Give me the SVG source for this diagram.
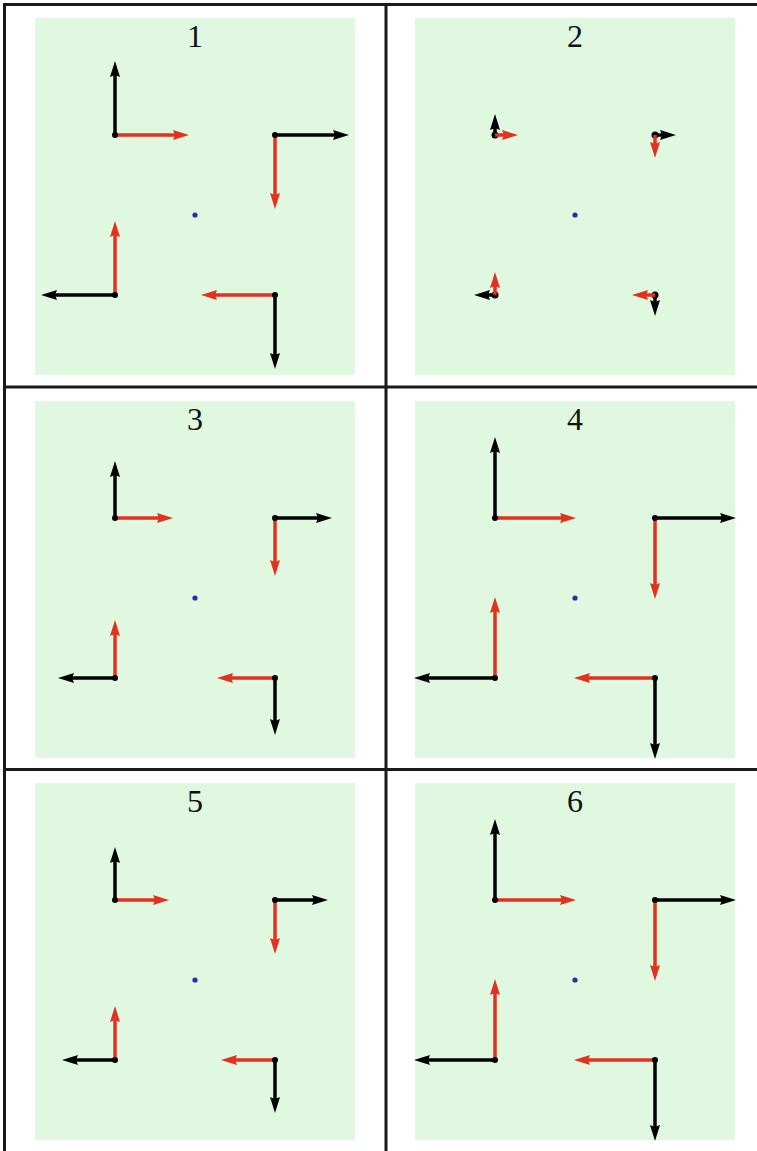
<svg xmlns="http://www.w3.org/2000/svg" width="757" height="1151" viewBox="0 0 757 1151">
<style>
.bg{fill:#e0f8e0}
.grid{stroke:#1a1a1a;stroke-width:3;fill:none}
.lbl{font-family:"Liberation Serif","Times New Roman",serif;font-size:32px;fill:#111;text-anchor:middle}
.blk{stroke:#000;stroke-width:3.5;fill:none;marker-end:url(#hb)}
.red{stroke:#e3311f;stroke-width:3.5;fill:none;marker-end:url(#hr)}
.dot{fill:#000}
.ctr{fill:#2a2ab8}
</style>
<defs>
<marker id="hb" markerUnits="userSpaceOnUse" markerWidth="16" markerHeight="11" viewBox="0 0 16 11" refX="4" refY="5.5" orient="auto"><path d="M0,0.5 L16,5.5 L0,10.5 L2,5.5 z" fill="#000"/></marker>
<marker id="hr" markerUnits="userSpaceOnUse" markerWidth="16" markerHeight="11" viewBox="0 0 16 11" refX="4" refY="5.5" orient="auto"><path d="M0,0.5 L16,5.5 L0,10.5 L2,5.5 z" fill="#e3311f"/></marker>
</defs>
<rect width="757" height="1151" fill="#fff"/>
<g id="table">
<path class="grid" d="M3,4.5 H757 M3,387 H757 M3,769.5 H757 M4.5,3 V1151 M386,3 V1151"/>
</g>
<g id="panel1">
<rect class="bg" x="35" y="18" width="320" height="357"/>
<text class="lbl" x="195" y="47">1</text>
<circle class="ctr" cx="195" cy="215" r="2.6"/>
<g id="arrows1">
<line class="blk" x1="115" y1="135" x2="115" y2="73"/><line class="red" x1="115" y1="135" x2="177" y2="135"/>
<line class="blk" x1="275" y1="135" x2="337" y2="135"/><line class="red" x1="275" y1="135" x2="275" y2="197"/>
<line class="blk" x1="115" y1="295" x2="53" y2="295"/><line class="red" x1="115" y1="295" x2="115" y2="233"/>
<line class="blk" x1="275" y1="295" x2="275" y2="357"/><line class="red" x1="275" y1="295" x2="213" y2="295"/>
<circle class="dot" cx="115" cy="135" r="3"/><circle class="dot" cx="275" cy="135" r="3"/><circle class="dot" cx="115" cy="295" r="3"/><circle class="dot" cx="275" cy="295" r="3"/>
</g>
</g>
<g id="panel2">
<rect class="bg" x="415" y="18" width="320" height="357"/>
<text class="lbl" x="575" y="47">2</text>
<circle class="ctr" cx="575" cy="215" r="2.6"/>
<g id="arrows2">
<circle class="dot" cx="495" cy="135" r="3.5"/><circle class="dot" cx="655" cy="135" r="3.5"/><circle class="dot" cx="495" cy="295" r="3.5"/><circle class="dot" cx="655" cy="295" r="3.5"/>
<line class="blk" x1="495" y1="135" x2="495" y2="126"/><line class="red" x1="495" y1="135" x2="506" y2="135"/>
<line class="blk" x1="655" y1="135" x2="664" y2="135"/><line class="red" x1="655" y1="135" x2="655" y2="146"/>
<line class="blk" x1="495" y1="295" x2="486" y2="295"/><line class="red" x1="495" y1="295" x2="495" y2="284"/>
<line class="blk" x1="655" y1="295" x2="655" y2="304"/><line class="red" x1="655" y1="295" x2="644" y2="295"/>
</g>
</g>
<g id="panel3">
<rect class="bg" x="35" y="401" width="320" height="357"/>
<text class="lbl" x="195" y="430">3</text>
<circle class="ctr" cx="195" cy="598" r="2.6"/>
<g id="arrows3">
<line class="blk" x1="115" y1="518" x2="115" y2="473"/><line class="red" x1="115" y1="518" x2="161" y2="518"/>
<line class="blk" x1="275" y1="518" x2="320" y2="518"/><line class="red" x1="275" y1="518" x2="275" y2="564"/>
<line class="blk" x1="115" y1="678" x2="70" y2="678"/><line class="red" x1="115" y1="678" x2="115" y2="632"/>
<line class="blk" x1="275" y1="678" x2="275" y2="723"/><line class="red" x1="275" y1="678" x2="229" y2="678"/>
<circle class="dot" cx="115" cy="518" r="3"/><circle class="dot" cx="275" cy="518" r="3"/><circle class="dot" cx="115" cy="678" r="3"/><circle class="dot" cx="275" cy="678" r="3"/>
</g>
</g>
<g id="panel4">
<rect class="bg" x="415" y="401" width="320" height="357"/>
<text class="lbl" x="575" y="430">4</text>
<circle class="ctr" cx="575" cy="598" r="2.6"/>
<g id="arrows4">
<line class="blk" x1="495" y1="518" x2="495" y2="449"/><line class="red" x1="495" y1="518" x2="564" y2="518"/>
<line class="blk" x1="655" y1="518" x2="724" y2="518"/><line class="red" x1="655" y1="518" x2="655" y2="587"/>
<line class="blk" x1="495" y1="678" x2="426" y2="678"/><line class="red" x1="495" y1="678" x2="495" y2="609"/>
<line class="blk" x1="655" y1="678" x2="655" y2="747"/><line class="red" x1="655" y1="678" x2="586" y2="678"/>
<circle class="dot" cx="495" cy="518" r="3"/><circle class="dot" cx="655" cy="518" r="3"/><circle class="dot" cx="495" cy="678" r="3"/><circle class="dot" cx="655" cy="678" r="3"/>
</g>
</g>
<g id="panel5">
<rect class="bg" x="35" y="783" width="320" height="357"/>
<text class="lbl" x="195" y="812">5</text>
<circle class="ctr" cx="195" cy="980" r="2.6"/>
<g id="arrows5">
<line class="blk" x1="115" y1="900" x2="115" y2="859"/><line class="red" x1="115" y1="900" x2="157" y2="900"/>
<line class="blk" x1="275" y1="900" x2="316" y2="900"/><line class="red" x1="275" y1="900" x2="275" y2="942"/>
<line class="blk" x1="115" y1="1060" x2="74" y2="1060"/><line class="red" x1="115" y1="1060" x2="115" y2="1018"/>
<line class="blk" x1="275" y1="1060" x2="275" y2="1101"/><line class="red" x1="275" y1="1060" x2="233" y2="1060"/>
<circle class="dot" cx="115" cy="900" r="3"/><circle class="dot" cx="275" cy="900" r="3"/><circle class="dot" cx="115" cy="1060" r="3"/><circle class="dot" cx="275" cy="1060" r="3"/>
</g>
</g>
<g id="panel6">
<rect class="bg" x="415" y="783" width="320" height="357"/>
<text class="lbl" x="575" y="812">6</text>
<circle class="ctr" cx="575" cy="980" r="2.6"/>
<g id="arrows6">
<line class="blk" x1="495" y1="900" x2="495" y2="831"/><line class="red" x1="495" y1="900" x2="564" y2="900"/>
<line class="blk" x1="655" y1="900" x2="724" y2="900"/><line class="red" x1="655" y1="900" x2="655" y2="969"/>
<line class="blk" x1="495" y1="1060" x2="426" y2="1060"/><line class="red" x1="495" y1="1060" x2="495" y2="991"/>
<line class="blk" x1="655" y1="1060" x2="655" y2="1129"/><line class="red" x1="655" y1="1060" x2="586" y2="1060"/>
<circle class="dot" cx="495" cy="900" r="3"/><circle class="dot" cx="655" cy="900" r="3"/><circle class="dot" cx="495" cy="1060" r="3"/><circle class="dot" cx="655" cy="1060" r="3"/>
</g>
</g>
</svg>
